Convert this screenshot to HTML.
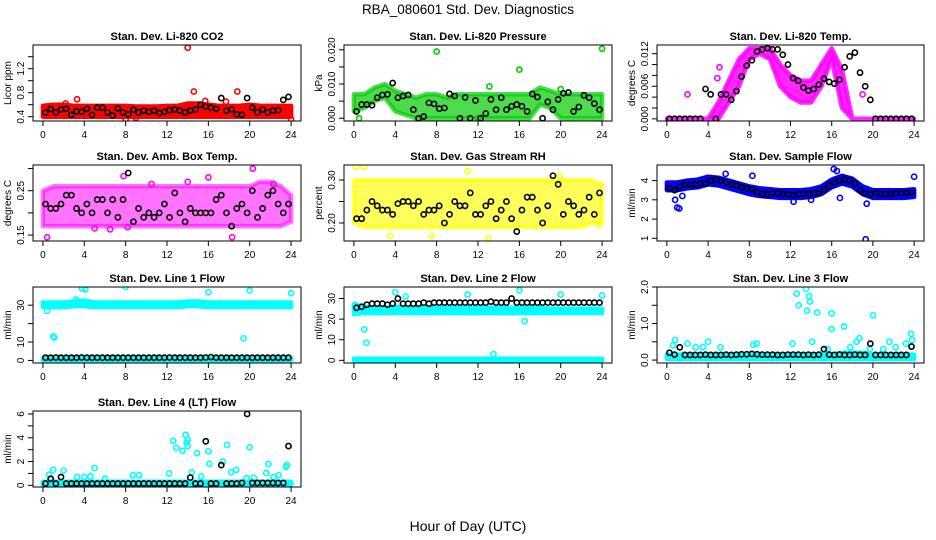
<!DOCTYPE html>
<html><head><meta charset="utf-8"><style>
body{margin:0;background:#fff;}
svg{display:block;font-family:"Liberation Sans",sans-serif;}
</style></head><body>
<svg id="chart" width="936" height="540" viewBox="0 0 936 540" xmlns="http://www.w3.org/2000/svg">
<rect width="936" height="540" fill="#fff"/>
<text x="468" y="14" font-size="13.5" text-anchor="middle">RBA_080601  Std. Dev. Diagnostics</text>
<text x="468" y="531" font-size="14" text-anchor="middle">Hour of Day (UTC)</text>
</svg>
<script>
const hours=[0,1,2,3,4,5,6,7,8,9,10,11,12,13,14,15,16,17,18,19,20,21,22,23,24];
const xTicks=[0,4,8,12,16,20,24];

const co2Lo=[0.40,0.40,0.40,0.40,0.40,0.40,0.40,0.40,0.40,0.40,0.40,0.40,0.40,0.40,0.40,0.40,0.40,0.40,0.40,0.40,0.40,0.40,0.40,0.40,0.40];
const co2Hi=[0.58,0.60,0.60,0.58,0.58,0.58,0.58,0.58,0.58,0.57,0.57,0.57,0.58,0.58,0.62,0.62,0.60,0.58,0.58,0.58,0.60,0.58,0.58,0.58,0.58];
const co2Out=[3.3,0.69,14,1.55,14.6,0.82,18.8,0.82,8,0.36,24,0.36,15.7,0.66,2.2,0.62,9,0.38,17.7,0.65];
const co2Black=[0.47,0.53,0.47,0.52,0.53,0.43,0.49,0.48,0.53,0.43,0.55,0.55,0.47,0.42,0.54,0.47,0.44,0.52,0.47,0.5,0.48,0.5,0.46,0.48,0.51,0.52,0.5,0.47,0.5,0.52,0.6,0.57,0.55,0.53,0.71,0.5,0.52,0.44,0.43,0.71,0.55,0.47,0.52,0.47,0.5,0.51,0.68,0.73];

const presLo=[0.002,0.003,0.005,0.006,0.002,0.001,0,0,0,0,0,0,0,0,0,0,0,0,0.004,0.003,0,0,0,0,0];
const presHi=[0.007,0.007,0.009,0.010,0.008,0.007,0.006,0.007,0.007,0.006,0.007,0.007,0.007,0.007,0.007,0.007,0.007,0.007,0.009,0.008,0.007,0.007,0.007,0.007,0.007];
const presOut=[8,0.0195,16,0.0142,24,0.0203,0.5,0,12,0,20,0.0085,13.1,0.0093];
const presBlack=[0.002,0.004,0.004,0.0038,0.006,0.0068,0.007,0.0103,0.006,0.0065,0.0068,0.0025,0,0.0005,0.0045,0.0042,0.0028,0.003,0.0071,0.0065,0,0.0061,0,0.0052,0,0.0014,0.0055,0.0025,0.006,0.0025,0.0035,0.004,0.0035,0.002,0.0071,0.0062,0,0.0048,0.0025,0.0055,0.0073,0.0075,0.002,0.0033,0.0067,0.006,0.0043,0.0025];

const tempLo=[0,0,0,0,0,0,0.003,0.006,0.011,0.012,0.011,0.006,0.004,0.003,0.003,0.006,0.011,0.002,0,0,0,0,0,0,0];
const tempHi=[0,0,0,0,0,0.003,0.007,0.011,0.013,0.013,0.013,0.010,0.008,0.007,0.007,0.010,0.013,0.009,0,0,0,0,0,0,0];
const tempOut=[2,0.0045,19,0.0045,5.1,0.0095,4.9,0.0075];
const tempBlack=[0,0,0,0,0,0,0,0.0055,0.0045,0,0.0045,0.0045,0.0035,0.0051,0.0078,0.0098,0.0108,0.0124,0.0128,0.013,0.0128,0.0128,0.0118,0.01,0.0075,0.007,0.0058,0.0052,0.0055,0.0063,0.0074,0.0068,0.0065,0.0072,0.0095,0.0115,0.0122,0.0085,0.006,0.0035,0,0,0,0,0,0,0,0];

const ambLo=[0.17,0.17,0.17,0.17,0.17,0.17,0.17,0.17,0.17,0.17,0.17,0.17,0.17,0.17,0.17,0.17,0.17,0.17,0.17,0.17,0.17,0.17,0.17,0.17,0.18];
const ambHi=[0.25,0.26,0.26,0.26,0.26,0.26,0.26,0.26,0.26,0.26,0.26,0.26,0.26,0.26,0.26,0.26,0.26,0.26,0.26,0.26,0.26,0.27,0.27,0.26,0.24];
const ambOut=[0.4,0.145,6.5,0.163,8.2,0.168,18.3,0.145,20.3,0.3,16,0.28,7.8,0.283,14,0.27,10.5,0.265,22.3,0.265,5,0.165];
const ambBlack=[0.22,0.21,0.21,0.22,0.24,0.24,0.21,0.2,0.22,0.2,0.23,0.23,0.2,0.23,0.19,0.23,0.29,0.18,0.21,0.19,0.2,0.19,0.2,0.22,0.19,0.245,0.2,0.18,0.21,0.2,0.2,0.2,0.2,0.23,0.24,0.2,0.17,0.21,0.22,0.2,0.25,0.19,0.21,0.24,0.25,0.22,0.2,0.22];

const rhLo=[0.20,0.19,0.19,0.19,0.19,0.19,0.19,0.19,0.19,0.19,0.19,0.19,0.19,0.19,0.19,0.19,0.19,0.19,0.19,0.19,0.19,0.19,0.19,0.20,0.20];
const rhHi=[0.30,0.30,0.30,0.30,0.30,0.30,0.30,0.30,0.30,0.30,0.30,0.30,0.30,0.30,0.30,0.30,0.30,0.30,0.30,0.30,0.30,0.30,0.30,0.30,0.29];
const rhOut=[0.2,0.33,1,0.33,13,0.165,3.5,0.17,7.5,0.17,23.7,0.195,11,0.32,19.9,0.31];
const rhBlack=[0.21,0.21,0.23,0.25,0.24,0.23,0.23,0.22,0.245,0.25,0.25,0.24,0.25,0.22,0.23,0.23,0.24,0.2,0.22,0.25,0.24,0.24,0.27,0.22,0.22,0.24,0.25,0.21,0.23,0.25,0.21,0.18,0.23,0.26,0.26,0.23,0.2,0.24,0.31,0.29,0.22,0.25,0.24,0.22,0.23,0.26,0.22,0.27];

const flowLo=[3.5,3.5,3.6,3.65,3.8,3.75,3.6,3.45,3.3,3.2,3.15,3.1,3.1,3.1,3.15,3.3,3.65,3.85,3.7,3.3,3.1,3.1,3.1,3.1,3.15];
const flowHi=[3.9,3.9,4.0,4.05,4.2,4.15,4.0,3.85,3.7,3.6,3.55,3.5,3.5,3.5,3.55,3.7,4.05,4.25,4.1,3.7,3.5,3.5,3.5,3.5,3.55];
const flowOut=[1,2.6,1.2,2.55,1.5,3.2,0.8,3.0,19.3,0.95,19.4,2.8,24,4.2,16.2,4.6,16.5,4.5,5.7,4.35,8.3,4.25,16.8,3.1,12.3,2.9,14,3.0];
const flowBlack=[3.6,3.5,3.7,3.8,3.8,3.8,3.85,3.85,4.0,4.05,4.0,3.9,3.8,3.75,3.65,3.6,3.55,3.4,3.3,3.3,3.35,3.35,3.3,3.3,3.25,3.3,3.3,3.3,3.35,3.35,3.55,3.75,3.9,4.0,4.05,4.0,3.85,3.5,3.35,3.3,3.35,3.3,3.3,3.3,3.35,3.35,3.35,3.4];

const l1UpLo=[29,29,29,29.5,29.5,29,29,29,29,29,29,29,29,29,29.5,29.5,29,29,29,29,29,29,29,29,29];
const l1UpHi=[31.5,31.5,31.5,32,32.5,31.5,31.5,31.5,31.5,31.5,31.5,31.5,31.5,31.5,32,32,31.5,31.5,31.5,31.5,31.5,31.5,31.5,31.5,31.5];
const l1LowLo=[0,0,0,0,0,0,0,0,0,0,0,0,0,0,0,0,0,0,0,0,0,0,0,0,0];
const l1LowHi=[1.2,1.2,1.2,1.2,1.2,1.2,1.2,1.2,1.2,1.2,1.2,1.2,1.2,1.2,1.2,1.2,1.2,1.2,1.2,1.2,1.2,1.2,1.2,1.2,1.2];
const l1Out=[0.4,27,1,13,1.1,12.5,3.8,39,4.1,38.5,8,40,16,37,19.4,12,20,38,24,36.5,3.2,33];
const l1Black=[1.5,1.5,1.6,1.5,1.5,1.5,1.5,1.6,1.5,1.5,1.5,1.5,1.5,1.5,1.5,1.5,1.5,1.5,1.5,1.5,1.5,1.5,1.5,1.5,1.6,1.5,1.5,1.5,1.5,1.5,1.5,1.6,1.8,1.5,1.5,1.5,1.5,1.5,1.5,1.5,1.5,1.5,1.5,1.5,1.5,1.5,1.5,1.5];

const l2UpLo=[22.5,23,23,23,23,23,23,23,23,23,23,23,23,23,23,23,23,23,23,23,23,23,23,23,23];
const l2UpHi=[27,26,25.5,25.5,26,25.5,25.5,25.5,25.5,25.5,25.5,25.5,25.5,25.5,25.5,25.5,25.5,25.5,25.5,25,25,25,25,25,25];
const l2LowLo=[0,0,0,0,0,0,0,0,0,0,0,0,0,0,0,0,0,0,0,0,0,0,0,0,0];
const l2LowHi=[0.8,0.8,0.8,0.8,0.8,0.8,0.8,0.8,0.8,0.8,0.8,0.8,0.8,0.8,0.8,0.8,0.8,0.8,0.8,0.8,0.8,0.8,0.8,0.8,0.8];
const l2Out=[1,15,1.2,8.5,0.1,27,4,33,5,31,11,32,16,34,16.5,19,20,32,24,31.5,13.5,3];
const l2Black=[25.5,26,27,27.5,27.5,27.5,27,27.5,30,27.5,27.5,27.5,27.5,28,27.5,28,28,28,28,28,28,28,28,28,28,28,28.5,28,28,28,30,28,28,28,28,28,28,28,28,28,28,28,28,28,28,28,28,28];

const l3Lo=[0.03,0.03,0.03,0.03,0.03,0.03,0.03,0.03,0.03,0.03,0.03,0.03,0.03,0.03,0.03,0.03,0.03,0.03,0.03,0.03,0.03,0.03,0.03,0.03,0.03];
const l3Hi=[0.15,0.15,0.15,0.15,0.15,0.15,0.15,0.15,0.15,0.15,0.15,0.15,0.15,0.15,0.15,0.15,0.15,0.2,0.2,0.2,0.15,0.15,0.15,0.15,0.15];
const l3Out=[0.6,0.4,0.8,0.55,2,0.45,2.8,0.35,3.5,0.35,4,0.5,5.2,0.35,8.4,0.42,8.7,0.45,12.2,0.45,12.6,1.82,12.8,1.5,13.5,1.95,13.6,1.35,13.8,1.75,13.9,1.6,14.1,0.5,14.6,1.3,15.6,0.3,16,0.85,16,1.28,17.2,0.92,17.8,0.35,18.4,0.5,18.7,0.6,19.7,0.3,20,1.22,21,0.3,21.6,0.5,22.2,0.35,23.2,0.45,23.7,0.72,23.8,0.55];
const l3Black=[0.2,0.15,0.35,0.14,0.14,0.14,0.14,0.15,0.14,0.14,0.14,0.15,0.14,0.15,0.16,0.16,0.17,0.16,0.15,0.15,0.15,0.14,0.14,0.15,0.15,0.15,0.14,0.15,0.14,0.15,0.3,0.15,0.14,0.15,0.14,0.14,0.15,0.14,0.14,0.45,0.14,0.14,0.14,0.14,0.14,0.14,0.14,0.37];

const l4Lo=[0,0,0,0,0,0,0,0,0,0,0,0,0,0,0,0,0,0,0,0,0,0,0,0,0];
const l4Hi=[0.3,0.3,0.3,0.3,0.3,0.3,0.3,0.3,0.3,0.3,0.3,0.3,0.3,0.3,0.3,0.3,0.3,0.3,0.3,0.3,0.3,0.3,0.3,0.3,0.3];
const l4Out=[0.6,0.9,1,1.3,2,1.25,3.3,0.7,4,0.7,4.6,0.75,5,1.45,6,0.55,8.7,0.85,9.3,0.85,12.2,1,12.6,3.75,12.9,3.15,13.5,2.9,13.8,4.25,13.9,3.6,14,3.85,14,3.3,14.4,1.1,14.9,2.7,15.3,0.75,16,2.85,16.1,1.8,17.4,2,17.8,3.4,18.2,1.1,18.7,1.3,19.7,0.6,20,3.2,20.4,0.65,21.6,1.05,21.8,1.8,22.3,0.7,22.8,0.85,23.5,1.55,23.6,1.7];
const l4Black=[0.15,0.55,0.15,0.7,0.15,0.15,0.15,0.15,0.15,0.15,0.15,0.15,0.15,0.15,0.15,0.15,0.15,0.15,0.15,0.15,0.15,0.15,0.15,0.15,0.15,0.15,0.15,0.15,0.65,0.15,0.15,3.7,0.15,0.15,1.7,0.15,0.15,0.15,0.2,6.0,0.2,0.2,0.2,0.2,0.2,0.2,0.2,3.3];

const NS="http://www.w3.org/2000/svg";
const svg=document.getElementById('chart');
function mk(tag,attrs,parent){const e=document.createElementNS(NS,tag);for(const k in attrs)e.setAttribute(k,attrs[k]);(parent||svg).appendChild(e);return e;}

const panels=[
 {name:'co2',title:'Stan. Dev. Li-820 CO2',ylab:'Licor ppm',col:0,row:0,y0:0.328,y1:1.595,ticks:[0.4,0.6,0.8,1.0,1.2,1.4],labels:['0.4','','0.8','','1.2',''],color:'#ff0000',bands:[[co2Lo,co2Hi]],out:co2Out,black:co2Black,op:1},
 {name:'pressure',title:'Stan. Dev. Li-820 Pressure',ylab:'kPa',col:1,row:0,y0:-0.0008,y1:0.0214,ticks:[0,0.005,0.01,0.015,0.02],labels:['0.000','','0.010','','0.020'],color:'#00cc00',bands:[[presLo,presHi]],out:presOut,black:presBlack,op:0.7},
 {name:'temp',title:'Stan. Dev. Li-820 Temp.',ylab:'degrees C',col:2,row:0,y0:-0.0004,y1:0.0136,ticks:[0,0.002,0.004,0.006,0.008,0.01,0.012],labels:['0.000','','','0.006','','','0.012'],color:'#ff00ff',bands:[[tempLo,tempHi]],out:tempOut,black:tempBlack,op:0.85},
 {name:'amb-box-temp',title:'Stan. Dev. Amb. Box Temp.',ylab:'degrees C',col:0,row:1,y0:0.1366,y1:0.308,ticks:[0.15,0.2,0.25,0.3],labels:['0.15','','0.25',''],color:'#ff00ff',bands:[[ambLo,ambHi]],out:ambOut,black:ambBlack,op:0.55},
 {name:'gas-rh',title:'Stan. Dev. Gas Stream RH',ylab:'percent',col:1,row:1,y0:0.158,y1:0.335,ticks:[0.2,0.25,0.3],labels:['0.20','','0.30'],color:'#ffff00',bands:[[rhLo,rhHi]],out:rhOut,black:rhBlack,op:0.65},
 {name:'sample-flow',title:'Stan. Dev. Sample Flow',ylab:'ml/min',col:2,row:1,y0:0.86,y1:4.81,ticks:[1,2,3,4],labels:['1','2','3','4'],color:'#0000ff',bands:[[flowLo,flowHi]],out:flowOut,black:flowBlack,op:1},
 {name:'line1-flow',title:'Stan. Dev. Line 1 Flow',ylab:'ml/min',col:0,row:2,y0:-1.4,y1:39.9,ticks:[0,10,20,30],labels:['0','10','','30'],color:'#00ffff',bands:[[l1UpLo,l1UpHi],[l1LowLo,l1LowHi]],out:l1Out,black:l1Black,op:1},
 {name:'line2-flow',title:'Stan. Dev. Line 2 Flow',ylab:'ml/min',col:1,row:2,y0:-1.3,y1:35.6,ticks:[0,10,20,30],labels:['0','10','20','30'],color:'#00ffff',bands:[[l2UpLo,l2UpHi],[l2LowLo,l2LowHi]],out:l2Out,black:l2Black,op:1},
 {name:'line3-flow',title:'Stan. Dev. Line 3 Flow',ylab:'ml/min',col:2,row:2,y0:-0.08,y1:2.0,ticks:[0,0.5,1,1.5,2],labels:['0.0','','1.0','','2.0'],color:'#00ffff',bands:[[l3Lo,l3Hi]],out:l3Out,black:l3Black,op:1},
 {name:'line4-flow',title:'Stan. Dev. Line 4 (LT) Flow',ylab:'ml/min',col:0,row:3,y0:-0.14,y1:6.25,ticks:[0,1,2,3,4,5,6],labels:['0','','2','','4','','6'],color:'#00ffff',bands:[[l4Lo,l4Hi]],out:l4Out,black:l4Black,op:1}
];
const colL=[33,344,657],colR=[301,612,924];
const rowT=[45,165,287,411],rowB=[121,241,363,487];

panels.forEach(p=>{
 const L=colL[p.col],R=colR[p.col],T=rowT[p.row],B=rowB[p.row];
 const g=mk('g',{});
 
 
 const xs=h=>L+(h+0.96)*(R-L)/25.92;
 const ys=v=>B-(v-p.y0)/(p.y1-p.y0)*(B-T);
 const cp=mk('clipPath',{id:'c-'+p.name},g);mk('rect',{x:L,y:T,width:R-L,height:B-T},cp);
 const data=mk('g',{'clip-path':'url(#c-'+p.name+')'},g);
 p.bands.forEach(b=>{
  let pts=[];
  hours.forEach((h,i)=>pts.push(xs(h).toFixed(1)+','+ys(b[1][i]).toFixed(1)));
  for(let i=hours.length-1;i>=0;i--)pts.push(xs(hours[i]).toFixed(1)+','+ys(b[0][i]).toFixed(1));
  const poly=mk('polygon',{points:pts.join(' '),fill:p.color,'fill-opacity':p.op,stroke:p.color,'stroke-opacity':p.op,'stroke-width':4.5,'stroke-linejoin':'round'},data);
  
  
 });
 for(let i=0;i<p.out.length;i+=2){
  const c=mk('circle',{cx:xs(p.out[i]),cy:ys(p.out[i+1]),r:2.6,fill:'none',stroke:p.color,'stroke-width':1.6},data);
  
  
 }
 p.black.forEach((v,i)=>{
  const c=mk('circle',{cx:xs(0.25+0.5*i),cy:ys(v),r:2.6,fill:'none',stroke:'#000','stroke-width':1.6},data);
  
  
 });
 const box=mk('rect',{x:L,y:T,width:R-L,height:B-T,fill:'none',stroke:'#000','stroke-width':1},g);
 
 
 const t=mk('text',{x:(L+R)/2,y:T-5,'font-size':11,'font-weight':'bold','text-anchor':'middle'},g);t.textContent=p.title;
 
 
 xTicks.forEach(h=>{
  mk('line',{x1:xs(h),x2:xs(h),y1:B,y2:B+5,stroke:'#000'},g);
  const tl=mk('text',{x:xs(h),y:B+17,'font-size':10,'text-anchor':'middle'},g);tl.textContent=h;
  
  
 });
 p.ticks.forEach((v,i)=>{
  const y=ys(v);
  mk('line',{x1:L-5,x2:L,y1:y,y2:y,stroke:'#000'},g);
  if(p.labels[i]){
   const tl=mk('text',{x:L-9,y:y,'font-size':10,'text-anchor':'middle',transform:'rotate(-90 '+(L-9)+' '+y+')'},g);tl.textContent=p.labels[i];
   
   
  }
 });
 const yl=mk('text',{x:L-22,y:(T+B)/2,'font-size':10,'text-anchor':'middle',transform:'rotate(-90 '+(L-22)+' '+((T+B)/2)+')'},g);yl.textContent=p.ylab;
 
 
});
</script>
</body></html>
